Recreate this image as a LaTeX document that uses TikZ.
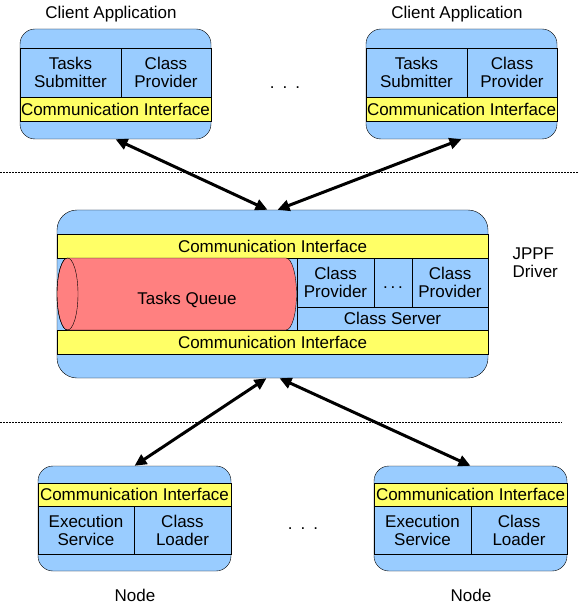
\documentclass[tikz,border=0pt]{standalone}
\usepackage{fontspec}
\setmainfont{Liberation Sans}
\usetikzlibrary{arrows.meta}
\definecolor{jblue}{RGB}{153,204,255}
\definecolor{jyellow}{RGB}{255,255,102}
\definecolor{jred}{RGB}{255,128,128}

\begin{document}
\begin{tikzpicture}[x=1pt,y=1pt,yscale=-1,xscale=1,
    font=\fontsize{17}{18}\selectfont,
    shell/.style={draw, fill=jblue, rounded corners=15pt, inner sep=0pt},
    cell/.style={draw, fill=jblue, inner sep=0pt, align=center},
    iface/.style={draw, fill=jyellow, inner sep=0pt},
    link/.style={line width=3pt, <->, >={Triangle[length=12pt,width=11pt]}},
    sep/.style={line width=1pt, dash pattern=on 1.5pt off 1.5pt}]
\useasboundingbox (0,0) rectangle (583,612);

%Separators
    \draw [sep] (0,173) -- (579,173);
    \draw [sep] (0,422) -- (562,422);

%Client Application (left)
    \node [shell, minimum width=191pt, minimum height=110pt] (cla) at (115.5,84) {};
    \node [cell, minimum width=101pt, minimum height=49pt] (claTS) at (70.5,72.5) {Tasks\\Submitter};
    \node [cell, minimum width=90pt, minimum height=49pt] (claCP) at (166,72.5) {Class\\Provider};
    \node [iface, minimum width=191pt, minimum height=24pt] (claCI) at (115.5,109) {Communication Interface};
%Client Application (right)
    \node [shell, minimum width=191pt, minimum height=110pt] (clb) at (461.5,84) {};
    \node [cell, minimum width=101pt, minimum height=49pt] (clbTS) at (416.5,72.5) {Tasks\\Submitter};
    \node [cell, minimum width=90pt, minimum height=49pt] (clbCP) at (512,72.5) {Class\\Provider};
    \node [iface, minimum width=191pt, minimum height=24pt] (clbCI) at (461.5,109) {Communication Interface};

%JPPF Driver
    \node [shell, rounded corners=20pt, minimum width=431pt, minimum height=168pt] (drv) at (272.5,294) {};
    \node [iface, minimum width=431pt, minimum height=24pt] (drvCIa) at (272.5,246) {Communication Interface};
    \node [iface, minimum width=431pt, minimum height=24pt] (drvCIb) at (272.5,342) {Communication Interface};
    \node [cell, minimum width=77pt, minimum height=49pt] (drvCPa) at (335.5,282.5) {Class\\Provider};
    \node [cell, minimum width=38pt, minimum height=49pt, text height=12pt, text depth=0pt] (drvDots) at (393,282.5) {.\,.\,.};
    \node [cell, minimum width=76pt, minimum height=49pt] (drvCPb) at (450,282.5) {Class\\Provider};
    \node [cell, minimum width=191pt, minimum height=23pt] (drvCS) at (392.5,318.5) {Class Server};
%Tasks Queue cylinder
    \filldraw [fill=jred] (67.5,258) -- (286,258) arc [start angle=-90, end angle=90, x radius=10.5, y radius=36]
        -- (67.5,330) arc [start angle=90, end angle=270, x radius=10.5, y radius=36] -- cycle;
    \draw (67.5,294) ellipse [x radius=10.5, y radius=36];
    \node (queue) at (187,300) {Tasks Queue};

%Nodes (left)
    \node [shell, minimum width=193pt, minimum height=105pt] (nda) at (134.5,518.5) {};
    \node [iface, minimum width=193pt, minimum height=23pt] (ndaCI) at (134.5,494.5) {Communication Interface};
    \node [cell, minimum width=96pt, minimum height=48pt] (ndaES) at (86,530) {Execution\\Service};
    \node [cell, minimum width=97pt, minimum height=48pt] (ndaCL) at (182.5,530) {Class\\Loader};
%Nodes (right)
    \node [shell, minimum width=193pt, minimum height=105pt] (ndb) at (470.5,518.5) {};
    \node [iface, minimum width=193pt, minimum height=23pt] (ndbCI) at (470.5,494.5) {Communication Interface};
    \node [cell, minimum width=97pt, minimum height=48pt] (ndbES) at (422.5,530) {Execution\\Service};
    \node [cell, minimum width=96pt, minimum height=48pt] (ndbCL) at (519,530) {Class\\Loader};

% Text Node
    \node (claLbl) at (111,14) {Client Application};
    \node (clbLbl) at (457,14) {Client Application};
    \node [anchor=west, align=left] (drvLbl) at (509,263) {JPPF\\Driver};
    \node (ndaLbl) at (135,595) {Node};
    \node (ndbLbl) at (471,595) {Node};
    \node (clDots) at (285,88) {.\hspace{8pt}.\hspace{8pt}.};
    \node (ndDots) at (303,529) {.\hspace{8pt}.\hspace{8pt}.};

%Links
    \draw [link] (cla.south) -- ([xshift=-5pt]drv.north);
    \draw [link] (clb.south) -- ([xshift=5pt]drv.north);
    \draw [link] ([xshift=-6pt]drv.south) -- (nda.north);
    \draw [link] ([xshift=7pt]drv.south) -- (ndb.north);

\end{tikzpicture}
\end{document}
